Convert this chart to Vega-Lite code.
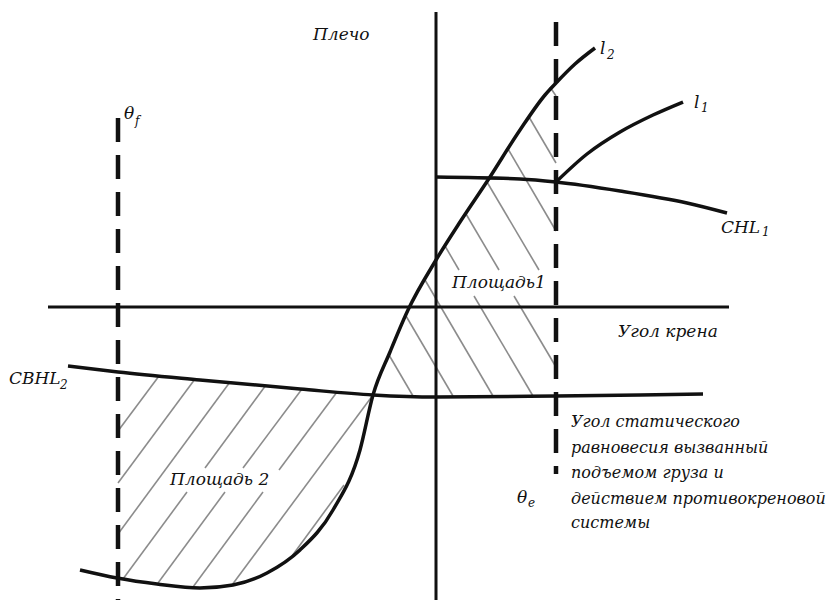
{
  "$schema": "https://vega.github.io/schema/vega-lite/v6.json",
  "width": 839,
  "height": 600,
  "autosize": "none",
  "padding": 0,
  "background": "white",
  "view": {"stroke": null},
  "config": {"text": {"font": "DejaVu Serif", "fontStyle": "italic", "color": "#111", "align": "left", "baseline": "middle"}},
  "datasets": {
    "hatch": [
      {"x": 389, "y": 355, "x2": 413, "y2": 396},
      {"x": 406, "y": 316, "x2": 453, "y2": 396},
      {"x": 425, "y": 280, "x2": 493, "y2": 396},
      {"x": 445, "y": 246, "x2": 459, "y2": 270},
      {"x": 474, "y": 296, "x2": 533, "y2": 396},
      {"x": 466, "y": 214, "x2": 499, "y2": 270},
      {"x": 514, "y": 296, "x2": 556, "y2": 367},
      {"x": 487, "y": 182, "x2": 539, "y2": 270},
      {"x": 508, "y": 149, "x2": 556, "y2": 231},
      {"x": 529, "y": 117, "x2": 556, "y2": 163},
      {"x": 550, "y": 87, "x2": 556, "y2": 96},
      {"x": 159, "y": 376, "x2": 118, "y2": 431},
      {"x": 195, "y": 379, "x2": 118, "y2": 483},
      {"x": 230, "y": 382, "x2": 118, "y2": 534},
      {"x": 266, "y": 385, "x2": 205, "y2": 468},
      {"x": 187, "y": 492, "x2": 123, "y2": 579},
      {"x": 302, "y": 389, "x2": 243, "y2": 468},
      {"x": 225, "y": 492, "x2": 158, "y2": 583},
      {"x": 337, "y": 392, "x2": 279, "y2": 470},
      {"x": 263, "y": 492, "x2": 193, "y2": 587},
      {"x": 373, "y": 395, "x2": 232, "y2": 585},
      {"x": 344, "y": 485, "x2": 292, "y2": 556}
    ],
    "axes": [
      {"x": 436, "y": 12, "x2": 436, "y2": 600},
      {"x": 48, "y": 307, "x2": 729, "y2": 307}
    ],
    "dashed": [
      {"x": 118, "y": 118, "x2": 118, "y2": 600},
      {"x": 556, "y": 22, "x2": 556, "y2": 474}
    ],
    "curves": [
      {"c": "l2", "x": 80, "y": 570},
      {"c": "l2", "x": 117, "y": 578},
      {"c": "l2", "x": 157, "y": 584},
      {"c": "l2", "x": 200, "y": 588},
      {"c": "l2", "x": 233, "y": 585},
      {"c": "l2", "x": 267, "y": 573},
      {"c": "l2", "x": 300, "y": 550},
      {"c": "l2", "x": 333, "y": 510},
      {"c": "l2", "x": 360, "y": 450},
      {"c": "l2", "x": 373, "y": 395},
      {"c": "l2", "x": 390, "y": 352},
      {"c": "l2", "x": 408, "y": 310},
      {"c": "l2", "x": 436, "y": 260},
      {"c": "l2", "x": 460, "y": 222},
      {"c": "l2", "x": 488, "y": 180},
      {"c": "l2", "x": 520, "y": 130},
      {"c": "l2", "x": 545, "y": 95},
      {"c": "l2", "x": 556, "y": 83},
      {"c": "l2", "x": 575, "y": 64},
      {"c": "l2", "x": 595, "y": 48},
      {"c": "CHL1", "x": 436, "y": 177},
      {"c": "CHL1", "x": 520, "y": 179},
      {"c": "CHL1", "x": 556, "y": 182},
      {"c": "CHL1", "x": 620, "y": 191},
      {"c": "CHL1", "x": 687, "y": 203},
      {"c": "CHL1", "x": 727, "y": 213},
      {"c": "l1", "x": 556, "y": 182},
      {"c": "l1", "x": 587, "y": 154},
      {"c": "l1", "x": 620, "y": 132},
      {"c": "l1", "x": 653, "y": 115},
      {"c": "l1", "x": 683, "y": 102},
      {"c": "CBHL2", "x": 68, "y": 366},
      {"c": "CBHL2", "x": 118, "y": 372},
      {"c": "CBHL2", "x": 200, "y": 380},
      {"c": "CBHL2", "x": 300, "y": 389},
      {"c": "CBHL2", "x": 373, "y": 395},
      {"c": "CBHL2", "x": 436, "y": 397},
      {"c": "CBHL2", "x": 556, "y": 396},
      {"c": "CBHL2", "x": 640, "y": 395},
      {"c": "CBHL2", "x": 703, "y": 394}
    ],
    "labels": [
      {"x": 313, "y": 35, "t": "Плечо"},
      {"x": 124, "y": 114, "t": "θ"},
      {"x": 600, "y": 49, "t": "l"},
      {"x": 694, "y": 103, "t": "l"},
      {"x": 721, "y": 228, "t": "CHL"},
      {"x": 452, "y": 283, "t": "Площадь1"},
      {"x": 618, "y": 332, "t": "Угол крена"},
      {"x": 9, "y": 379, "t": "CBHL"},
      {"x": 170, "y": 480, "t": "Площадь 2"},
      {"x": 517, "y": 498, "t": "θ"}
    ],
    "subs": [
      {"x": 135, "y": 121, "t": "f"},
      {"x": 607, "y": 55, "t": "2"},
      {"x": 701, "y": 108, "t": "1"},
      {"x": 762, "y": 232, "t": "1"},
      {"x": 60, "y": 385, "t": "2"},
      {"x": 528, "y": 503, "t": "e"}
    ],
    "note": [
      {"x": 571, "y": 422, "t": "Угол статического"},
      {"x": 571, "y": 448, "t": "равновесия вызванный"},
      {"x": 571, "y": 473, "t": "подъемом груза и"},
      {"x": 571, "y": 499, "t": "действием противокреновой"},
      {"x": 571, "y": 523, "t": "системы"}
    ]
  },
  "layer": [
    {
      "data": {"name": "hatch"},
      "mark": {"type": "rule", "color": "#8c8c8c", "strokeWidth": 1.6},
      "encoding": {
        "x": {"field": "x", "type": "quantitative", "scale": {"domain": [0, 839], "nice": false, "zero": false}, "axis": null},
        "y": {"field": "y", "type": "quantitative", "scale": {"domain": [0, 600], "reverse": true, "nice": false, "zero": false}, "axis": null},
        "x2": {"field": "x2"},
        "y2": {"field": "y2"}
      }
    },
    {
      "data": {"name": "axes"},
      "mark": {"type": "rule", "color": "#111", "strokeWidth": 3},
      "encoding": {
        "x": {"field": "x", "type": "quantitative", "scale": {"domain": [0, 839], "nice": false, "zero": false}, "axis": null},
        "y": {"field": "y", "type": "quantitative", "scale": {"domain": [0, 600], "reverse": true, "nice": false, "zero": false}, "axis": null},
        "x2": {"field": "x2"},
        "y2": {"field": "y2"}
      }
    },
    {
      "data": {"name": "dashed"},
      "mark": {"type": "rule", "color": "#111", "strokeWidth": 4.5, "strokeDash": [24, 13]},
      "encoding": {
        "x": {"field": "x", "type": "quantitative", "scale": {"domain": [0, 839], "nice": false, "zero": false}, "axis": null},
        "y": {"field": "y", "type": "quantitative", "scale": {"domain": [0, 600], "reverse": true, "nice": false, "zero": false}, "axis": null},
        "x2": {"field": "x2"},
        "y2": {"field": "y2"}
      }
    },
    {
      "data": {"name": "curves"},
      "mark": {"type": "line", "color": "#111", "strokeWidth": 3.5, "interpolate": "monotone"},
      "encoding": {
        "x": {"field": "x", "type": "quantitative", "scale": {"domain": [0, 839], "nice": false, "zero": false}, "axis": null},
        "y": {"field": "y", "type": "quantitative", "scale": {"domain": [0, 600], "reverse": true, "nice": false, "zero": false}, "axis": null},
        "detail": {"field": "c"}
      }
    },
    {
      "data": {"name": "labels"},
      "mark": {"type": "text", "fontSize": 17},
      "encoding": {
        "x": {"field": "x", "type": "quantitative", "scale": {"domain": [0, 839], "nice": false, "zero": false}, "axis": null},
        "y": {"field": "y", "type": "quantitative", "scale": {"domain": [0, 600], "reverse": true, "nice": false, "zero": false}, "axis": null},
        "text": {"field": "t"}
      }
    },
    {
      "data": {"name": "subs"},
      "mark": {"type": "text", "fontSize": 12},
      "encoding": {
        "x": {"field": "x", "type": "quantitative", "scale": {"domain": [0, 839], "nice": false, "zero": false}, "axis": null},
        "y": {"field": "y", "type": "quantitative", "scale": {"domain": [0, 600], "reverse": true, "nice": false, "zero": false}, "axis": null},
        "text": {"field": "t"}
      }
    },
    {
      "data": {"name": "note"},
      "mark": {"type": "text", "fontSize": 16},
      "encoding": {
        "x": {"field": "x", "type": "quantitative", "scale": {"domain": [0, 839], "nice": false, "zero": false}, "axis": null},
        "y": {"field": "y", "type": "quantitative", "scale": {"domain": [0, 600], "reverse": true, "nice": false, "zero": false}, "axis": null},
        "text": {"field": "t"}
      }
    }
  ]
}
